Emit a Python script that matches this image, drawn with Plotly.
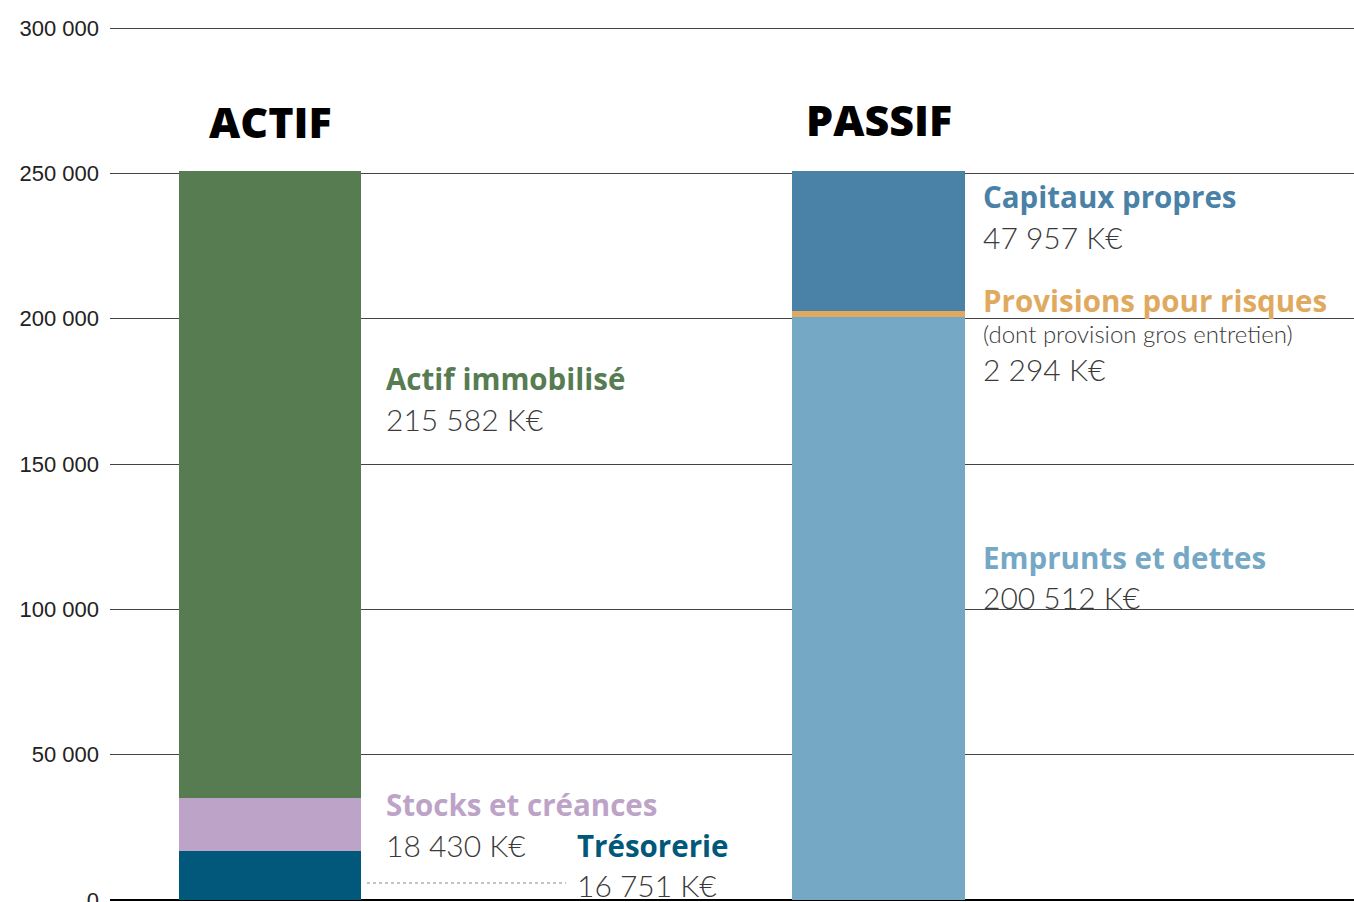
import plotly.graph_objects as go

categories = ["ACTIF", "PASSIF"]
actif_names = ["Trésorerie", "Stocks et créances", "Actif immobilisé"]
actif_values = [16751, 18430, 215582]
actif_colors = ["#02587A", "#BDA3C7", "#577C52"]
passif_names = ["Emprunts et dettes", "Provisions pour risques", "Capitaux propres"]
passif_values = [200512, 2294, 47957]
passif_colors = ["#74A8C5", "#DFAA5F", "#4A81A6"]
y_ticks = [0, 50000, 100000, 150000, 200000, 250000, 300000]

fig = go.Figure()
for n, v, c in zip(actif_names, actif_values, actif_colors):
    fig.add_trace(go.Bar(x=[categories[0]], y=[v], name=n, marker=dict(color=c, line=dict(width=0)),
                         width=0.299, hoverinfo="name+y"))
for n, v, c in zip(passif_names, passif_values, passif_colors):
    fig.add_trace(go.Bar(x=[categories[1]], y=[v], name=n, marker=dict(color=c, line=dict(width=0)),
                         width=0.284, hoverinfo="name+y"))

def fmt(v):
    return f"{v:,}".replace(",", " ") + " K€"

BOLD = dict(family="Open Sans", size=29.5, weight=700)
VAL = dict(family="Lato", size=30, color="#3a3a3a", weight=300)

ann = []
# titles
ann.append(dict(x=0, y=267800, text="ACTIF", font=dict(family="Open Sans", size=43, color="#000", weight=800)))
ann.append(dict(x=1, y=268600, text="PASSIF", font=dict(family="Open Sans", size=43, color="#000", weight=800)))

ax0 = 0.1875  # label offset from ACTIF centre
ax1 = 1 + (981 - 878.5) / 608.5

def lab(x, y, text, font):
    ann.append(dict(x=x, y=y, text=text, font=font, xanchor="left", yanchor="middle"))

lab(ax0, 179500, actif_names[2], dict(BOLD, color=actif_colors[2]))
lab(ax0, 165500, fmt(actif_values[2]), VAL)
lab(ax0, 32700, actif_names[1], dict(BOLD, color=actif_colors[1]))
lab(ax0, 18900, fmt(actif_values[1]), VAL)
axt = ax0 + (577 - 386) / 608.5
lab(axt, 18900, actif_names[0], dict(BOLD, color=actif_colors[0]))
lab(axt, 5200, fmt(actif_values[0]), VAL)

lab(ax1, 242000, passif_names[2], dict(BOLD, color=passif_colors[2]))
lab(ax1, 228200, fmt(passif_values[2]), VAL)
lab(ax1, 206400, passif_names[1], dict(BOLD, color=passif_colors[1]))
lab(ax1, 195000, "(dont provision gros entretien)", dict(family="Lato", size=24, color="#3a3a3a", weight=300))
lab(ax1, 182600, fmt(passif_values[1]), VAL)
lab(ax1, 118000, passif_names[0], dict(BOLD, color=passif_colors[0]))
lab(ax1, 104300, fmt(passif_values[0]), VAL)

for a in ann:
    a.update(xref="x", yref="y", showarrow=False)

fig.update_layout(
    barmode="stack",
    width=1354, height=902,
    margin=dict(l=110, r=0, t=20, b=0, autoexpand=False),
    paper_bgcolor="white", plot_bgcolor="white",
    showlegend=False,
    separators=". ",
    annotations=ann,
    bargap=0,
    shapes=[dict(type="line", xref="x", yref="y",
                 x0=(367 - 270) / 608.5, x1=(566 - 270) / 608.5, y0=5850, y1=5850,
                 line=dict(color="#888", width=1, dash="dot"))],
    xaxis=dict(type="category", range=[-0.263, 1.7814], showticklabels=False, automargin=False,
               showgrid=False, zeroline=False, showline=False, fixedrange=True),
    yaxis=dict(range=[-688, 302752], tickvals=y_ticks, tickformat=",d", automargin=False,
               showgrid=True, gridcolor="#444", gridwidth=1,
               zeroline=True, zerolinecolor="#000", zerolinewidth=1.5,
               showline=False, ticks="", ticklabelstandoff=10, ticklabeloverflow="allow",
               tickfont=dict(family="Liberation Sans", size=22, color="#222")),
)

fig.write_html("out.html", config={"displayModeBar": False},
               post_script="document.body.style.margin='0';document.body.style.overflow='hidden';")
